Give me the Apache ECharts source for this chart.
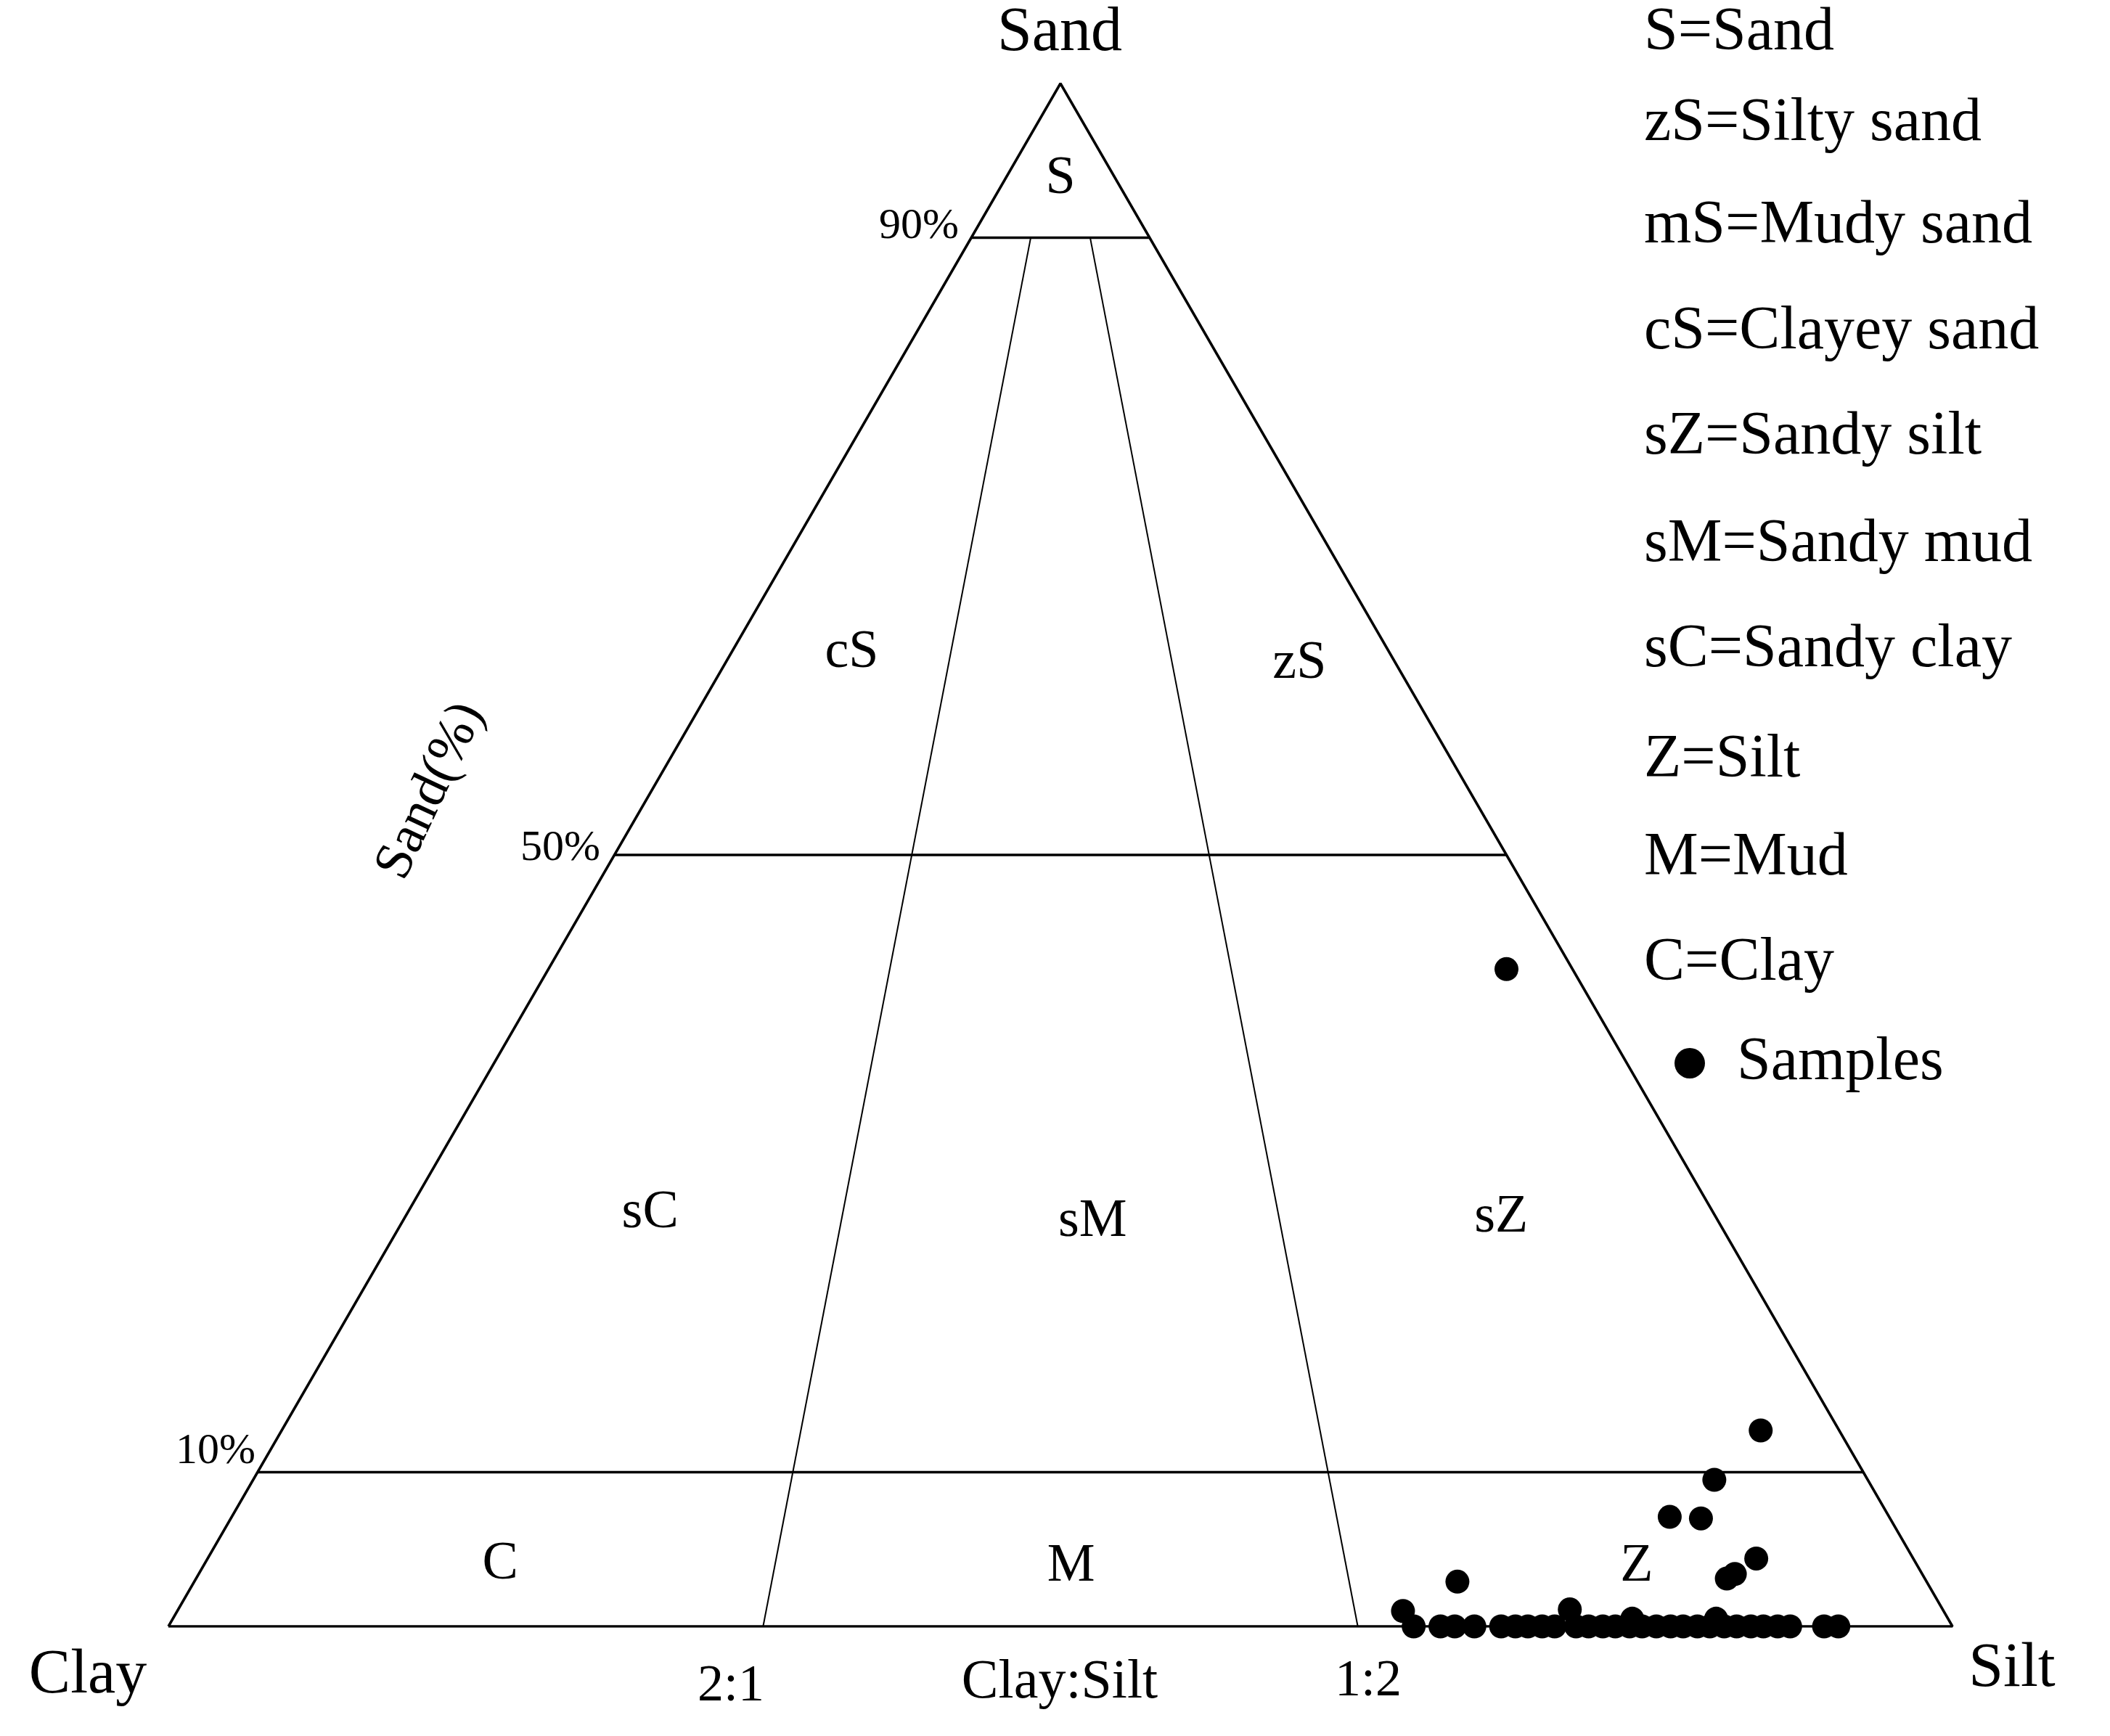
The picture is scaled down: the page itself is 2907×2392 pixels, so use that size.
<!DOCTYPE html>
<html><head><meta charset="utf-8">
<script src="https://cdn.jsdelivr.net/npm/echarts@6/dist/echarts.min.js"></script>
<style>html,body{margin:0;padding:0;background:#fff}#c{width:2907px;height:2392px}</style>
</head><body><div id="c"></div>
<script>
// Samples: [sand %, silt %] (clay = remainder)
const sampleSand = [42.6,12.7,9.5,7.1,7.0,4.4,3.4,3.1,2.9,1.0,1.1,0.5,0.5,
  0,0,0,0,0,0,0,0,0,0,0,0,0,0,0,0,0,0,0,0,0,0,0,0,0,0,0,0];
const sampleSilt = [53.7,82.9,81.9,80.6,82.4,86.8,86.1,85.8,70.8,68.7,78.0,81.8,86.5,
  69.8,71.3,72.1,73.2,74.7,75.5,76.2,77.0,77.7,78.9,79.6,80.4,81.1,81.9,82.6,83.4,84.2,84.9,85.7,86.4,87.2,87.9,88.7,89.4,90.2,90.9,92.8,93.6];
const sandLevels = [90, 50, 10];
const sandLevelLabels = ['90%', '50%', '10%'];
const ratioSiltFractions = [1/3, 2/3]; // 2:1 and 1:2 clay:silt
const ratioLabels = ['2:1', '1:2'];
const regionNames = ['S','cS','zS','sC','sM','sZ','C','M','Z'];
const legendItems = ['S=Sand','zS=Silty sand','mS=Mudy sand','cS=Clayey sand','sZ=Sandy silt','sM=Sandy mud','sC=Sandy clay','Z=Silt','M=Mud','C=Clay'];

function tern(sandPct, f){ const s=sandPct/100; return [100*(s*0.5+(1-s)*f), sandPct]; }
function fromSandSilt(sand, silt){ const mud=100-sand; return tern(sand, mud>0?silt/mud:0.5); }

const font = 'Liberation Serif';
const series = [];
series.push({type:'line',data:[tern(0,0),tern(100,0),tern(0,1),tern(0,0)],symbol:'none',lineStyle:{color:'#000',width:3.5},silent:true});
sandLevels.forEach(v=>series.push({type:'line',data:[tern(v,0),tern(v,1)],symbol:'none',lineStyle:{color:'#000',width:3.5},silent:true}));
ratioSiltFractions.forEach(f=>series.push({type:'line',data:[tern(0,f),tern(90,f)],symbol:'none',lineStyle:{color:'#000',width:2},silent:true}));
const regionPos = [[50,93.8],[38.3,63.1],[63.4,62.4],[27,26.8],[51.8,26.2],[74.7,26.5],[18.6,4],[50.6,3.9],[82.3,3.9]];
series.push({type:'scatter',symbolSize:1,itemStyle:{opacity:0},silent:true,
  data:regionNames.map((n,i)=>({value:regionPos[i],name:n})),
  label:{show:true,position:'inside',formatter:p=>p.name,fontFamily:font,fontSize:74,color:'#000',opacity:1}});
series.push({type:'scatter',symbol:'circle',symbolSize:33,itemStyle:{color:'#000',opacity:1},
  data:sampleSand.map((s,i)=>fromSandSilt(s,sampleSilt[i]))});

const T=(text,x,y,size)=>({type:'text',x,y,style:{text,fontFamily:font,fontSize:size,fill:'#000',textAlign:'center',textVerticalAlign:'middle'}});
const graphic=[
  T('Sand',1460,46,86), T('Clay',121,2309,86), T('Silt',2772,2300,86),
  T(ratioLabels[0],1007,2324,72), T('Clay:Silt',1460,2319,76), T(ratioLabels[1],1885,2317,72),
  {type:'text',x:1321,y:312,style:{text:sandLevelLabels[0],fontFamily:font,fontSize:60,fill:'#000',textAlign:'right',textVerticalAlign:'middle'}},
  {type:'text',x:827,y:1169,style:{text:sandLevelLabels[1],fontFamily:font,fontSize:60,fill:'#000',textAlign:'right',textVerticalAlign:'middle'}},
  {type:'text',x:352,y:2000,style:{text:sandLevelLabels[2],fontFamily:font,fontSize:60,fill:'#000',textAlign:'right',textVerticalAlign:'middle'}},
  {type:'text',x:594,y:1090,rotation:Math.PI*0.36,style:{text:'Sand(%)',fontFamily:font,fontSize:74,fill:'#000',textAlign:'center',textVerticalAlign:'middle'}}
];
const legY=[46,171,312,458,603,751,896,1048,1183,1328];
legendItems.forEach((t,i)=>graphic.push({type:'text',x:2265,y:legY[i],style:{text:t,fontFamily:font,fontSize:84,fill:'#000',textAlign:'left',textVerticalAlign:'middle'}}));
graphic.push({type:'circle',shape:{cx:2328,cy:1465,r:21},style:{fill:'#000'}});
graphic.push({type:'text',x:2393,y:1465,style:{text:'Samples',fontFamily:font,fontSize:84,fill:'#000',textAlign:'left',textVerticalAlign:'middle'}});

const chart=echarts.init(document.getElementById('c'));
chart.setOption({
  animation:false,backgroundColor:'#fff',
  grid:{left:232,right:217,top:115,bottom:151},
  xAxis:{type:'value',min:0,max:100,show:false},
  yAxis:{type:'value',min:0,max:100,show:false},
  series, graphic
});
</script></body></html>
